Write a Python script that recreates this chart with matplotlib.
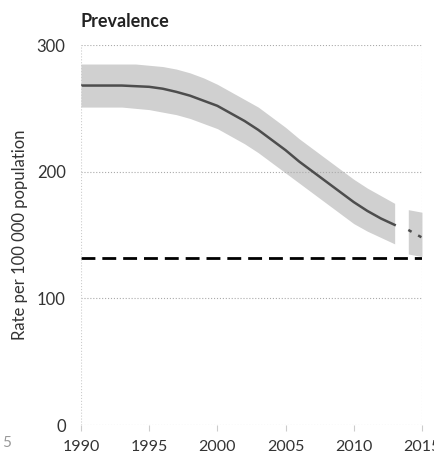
import numpy as np
import matplotlib.pyplot as plt

plt.rcParams['font.family'] = ['Lato', 'DejaVu Sans']

# estimated prevalence rates (per 100 000)
years = [1990, 1991, 1992, 1993, 1994, 1995, 1996, 1997, 1998, 1999, 2000, 2001,
         2002, 2003, 2004, 2005, 2006, 2007, 2008, 2009, 2010, 2011, 2012, 2013]
rate = [268, 268, 268, 268, 267.5, 267, 265.5, 263, 260, 256, 252, 246,
        240, 233, 225, 217, 208, 200, 192, 184, 176, 169, 163, 158]
upper = [285, 285, 285, 285, 285, 284, 283, 281, 278, 274, 269, 263,
         257, 251, 243, 235, 226, 218, 210, 202, 194, 187, 181, 175]
lower = [251, 251, 251, 251, 250, 249, 247, 245, 242, 238, 234, 228,
         222, 215, 207, 199, 191, 183, 175, 167, 159, 153, 148, 143]

# projection segment
proj_years = [2014, 2015]
proj_rate = [154, 148]
proj_upper = [170, 168]
proj_lower = [135, 133]

target = 131.5  # dashed target line
xticks = [1990, 1995, 2000, 2005, 2010, 2015]
yticks = [0, 100, 200, 300]

fig = plt.figure(figsize=(4.35, 4.57), dpi=100)
ax = fig.add_axes([0.186, 0.070, 0.784, 0.8315])

ax.fill_between(years, lower, upper, color='#d0d0d0', lw=0)
ax.plot(years, rate, color='#4d4d4d', lw=1.8)
ax.fill_between(proj_years, proj_lower, proj_upper, color='#d0d0d0', lw=0)
ax.plot(proj_years, proj_rate, color='#4d4d4d', lw=1.8, ls=(0, (1.5, 3)))

ax.axhline(target, color='black', lw=2, ls=(0, (5, 2.5)))

ax.set_xlim(1990, 2015)
ax.set_ylim(0, 300)
ax.set_xticks(xticks)
ax.set_yticks(yticks)
ax.grid(axis='y', color='#aaaaaa', ls=':', lw=0.8)
ax.axvline(1990, color='#cccccc', ls=':', lw=0.8)
ax.axvline(2015, color='#cccccc', ls=':', lw=0.8)
for s in ax.spines.values():
	s.set_visible(False)
ax.tick_params(axis='x', length=4, color='#cccccc', pad=7, labelsize=11.5, labelcolor='#333333')
ax.tick_params(axis='y', length=0, pad=11, labelsize=12, labelcolor='#333333')
ax.set_ylabel('Rate per 100 000 population', fontsize=12, color='#333333', labelpad=6)
ax.set_title('Prevalence', loc='left', fontweight='bold', fontsize=13, color='#222222', pad=13)

fig.text(0.005, 0.022, '5', fontsize=11, color='#999999')

plt.savefig('out.png')
